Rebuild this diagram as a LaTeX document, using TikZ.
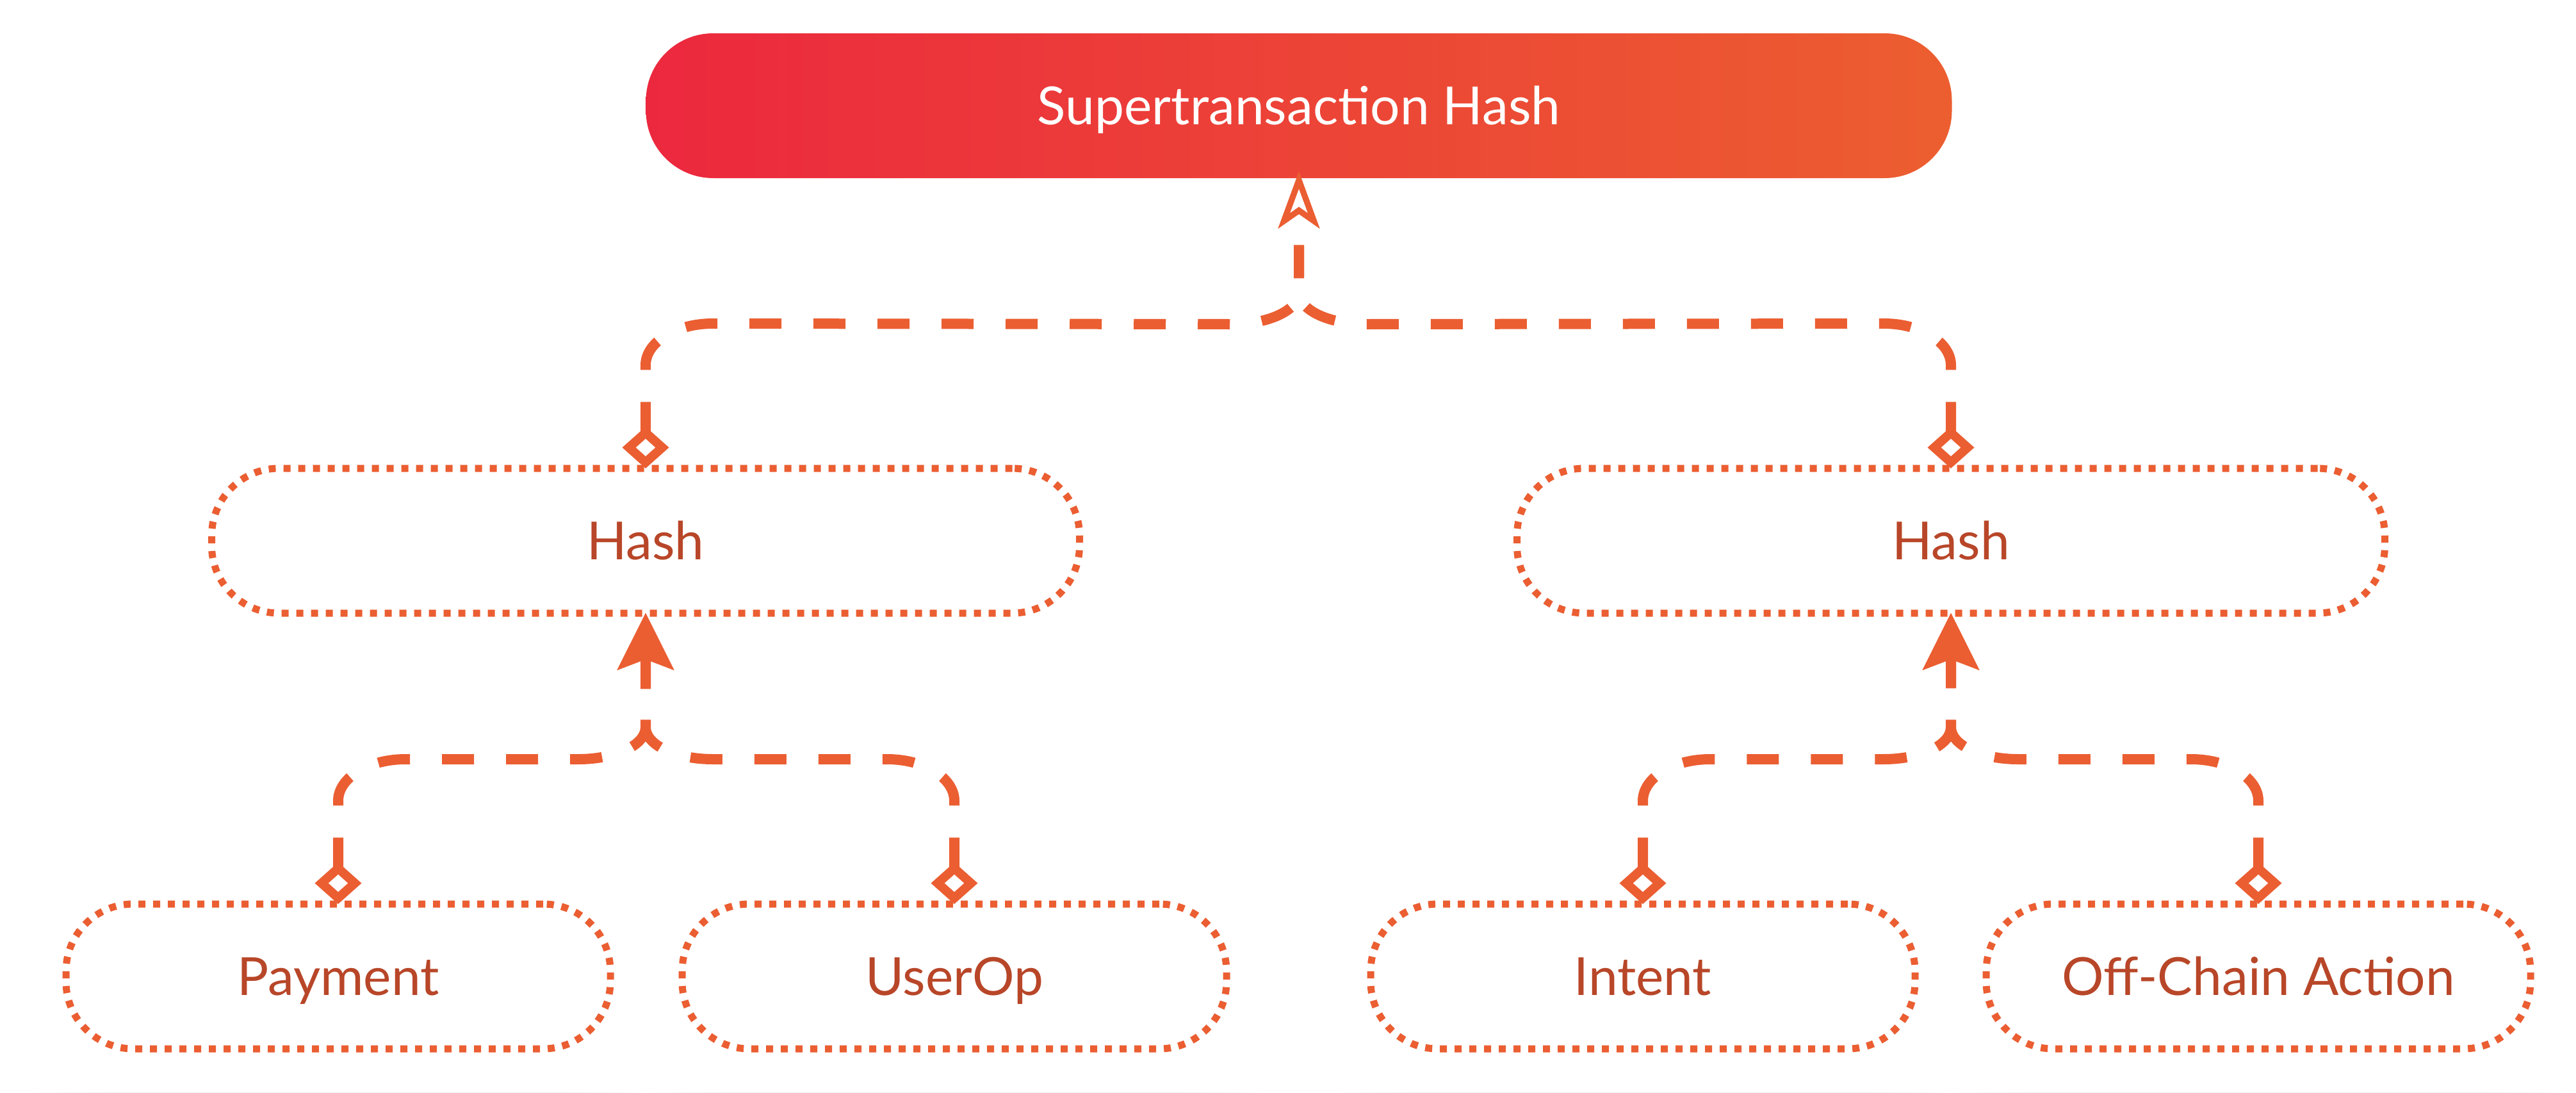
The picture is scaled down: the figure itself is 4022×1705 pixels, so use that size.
\documentclass[tikz,border=0pt]{standalone}
\usepackage{fontspec}
\setmainfont{Lato}
\usetikzlibrary{arrows.meta,calc}
\definecolor{lineor}{RGB}{235,94,50}
\definecolor{txtor}{RGB}{184,70,40}
\definecolor{gradL}{RGB}{236,40,62}
\definecolor{gradR}{RGB}{236,94,48}
\pgfdeclarelayer{bg}
\pgfsetlayers{bg,main}
\newcommand{\nodeshadow}[1]{%
  \foreach \d in {8,16,...,112}{%
    \pgfmathsetmacro\rr{105+\d}%
    \fill[black,opacity=0.0065,rounded corners=\rr pt]
      ([xshift=-\d pt,yshift=-\d pt-26pt]#1.south west) rectangle
      ([xshift=\d pt,yshift=\d pt-26pt]#1.north east);
  }%
}
% #1 style, #2 child node, #3 parent node, #4 direction (1 or -1)
\newcommand{\branch}[4]{%
  \draw[#1] (#2.north) -- ++(0,-161)
    .. controls +(0,-36) and +(-58*#4,0) .. ++(105*#4,-65)
    -- ($(#3.south)+(-105*#4,228)$)
    .. controls +(58*#4,0) and +(0,28) .. ($(#3.south)+(0,178)$)
    -- (#3.south);%
}
\begin{document}
\begin{tikzpicture}[x=1pt,y=-1pt,
  every node/.style={font=\fontsize{82}{98}\selectfont, inner sep=0pt, outer sep=0pt,
    text height=58pt, text depth=0pt},
  topbox/.style={minimum width=2039pt, minimum height=226pt, rounded corners=105pt,
    left color=gradL, right color=gradR, text=white},
  dotbox/.style={minimum height=226pt, rounded corners=105pt, draw=lineor,
    line width=11pt, dash pattern=on 11pt off 12pt, fill=white, text=txtor},
  hashbox/.style={dotbox, minimum width=1355pt},
  leafbox/.style={dotbox, minimum width=850pt},
  conn/.style={draw=lineor, line width=16pt, dash pattern=on 50pt off 50pt},
  lowconn/.style={conn, {Diamond[open, length=65pt, width=73pt, line width=14pt]}-{Stealth[length=89pt, width=89pt, inset=17pt, line width=1pt]}},
  highconn/.style={conn, shorten >=-10pt, {Diamond[open, length=65pt, width=73pt, line width=14pt]}-{Stealth[open, length=88pt, width=64pt, inset=22pt, line width=9pt]}}
]
\useasboundingbox (0,0) rectangle (4022,1705);
\fill[white] (0,0) rectangle (4022,1705);

\node[topbox] (top) at (2028,165) {Supertransaction Hash};
\node[hashbox] (hashL) at (1008,844) {Hash};
\node[hashbox] (hashR) at (3046,844) {Hash};
\node[leafbox] (pay) at (528,1524) {Payment};
\node[leafbox] (uop) at (1490,1524) {UserOp};
\node[leafbox] (int) at (2565,1524) {Intent};
\node[leafbox] (off) at (3526,1524) {Off-Chain Action};

\begin{pgfonlayer}{bg}
  \nodeshadow{top}
  \nodeshadow{hashL}
  \nodeshadow{hashR}
  \nodeshadow{pay}
  \nodeshadow{uop}
  \nodeshadow{int}
  \nodeshadow{off}
\end{pgfonlayer}

\branch{highconn}{hashL}{top}{1}
\branch{highconn}{hashR}{top}{-1}
\branch{lowconn}{pay}{hashL}{1}
\branch{lowconn}{uop}{hashL}{-1}
\branch{lowconn}{int}{hashR}{1}
\branch{lowconn}{off}{hashR}{-1}
\end{tikzpicture}
\end{document}
